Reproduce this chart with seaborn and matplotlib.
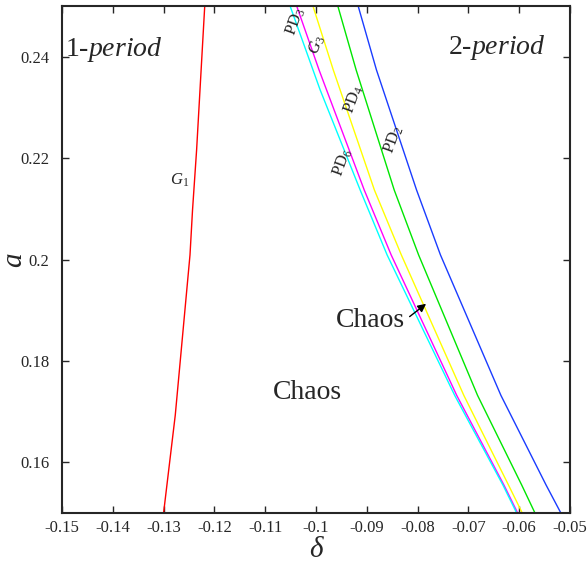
import numpy as np
import pandas as pd
import matplotlib
matplotlib.use("Agg")
import matplotlib.pyplot as plt
import seaborn as sns

# ---- data ----
g1_delta = [-0.1219, -0.1235, -0.1243, -0.1248, -0.1277, -0.1300]
g1_a     = [0.2500, 0.2216, 0.2098, 0.2009, 0.1693, 0.1500]

pd2_delta = [-0.0917, -0.0881, -0.0802, -0.0755, -0.0636, -0.0547, -0.0518]
pd2_a     = [0.2500, 0.2374, 0.2137, 0.2009, 0.1732, 0.1555, 0.1500]

pd4_delta = [-0.0957, -0.0921, -0.0846, -0.0798, -0.0682, -0.0595, -0.0569]
pd4_a     = [0.2500, 0.2374, 0.2137, 0.2009, 0.1732, 0.1555, 0.1500]

g3_delta = [-0.1006, -0.0966, -0.0885, -0.0832, -0.0709, -0.0621, -0.0594]
g3_a     = [0.2500, 0.2374, 0.2137, 0.2009, 0.1732, 0.1555, 0.1500]

pd3_delta = [-0.1038, -0.0994, -0.0905, -0.0852, -0.0723, -0.0630, -0.0603]
pd3_a     = [0.2500, 0.2374, 0.2137, 0.2009, 0.1732, 0.1555, 0.1500]

pd6_delta = [-0.1051, -0.0992, -0.0913, -0.0860, -0.0727, -0.0632, -0.0605]
pd6_a     = [0.2500, 0.2335, 0.2137, 0.2009, 0.1732, 0.1555, 0.1500]

curve_names = ["G1", "PD2", "PD4", "G3", "PD3", "PD6"]
curve_colors = ["#ff0000", "#1a3cff", "#00e600", "#ffff00", "#ff00ff", "#00ffff"]

x_ticks = [-0.15, -0.14, -0.13, -0.12, -0.11, -0.1, -0.09, -0.08, -0.07, -0.06, -0.05]
x_tick_labels = ["-0.15", "-0.14", "-0.13", "-0.12", "-0.11", "-0.1", "-0.09",
                 "-0.08", "-0.07", "-0.06", "-0.05"]
y_ticks = [0.16, 0.18, 0.2, 0.22, 0.24]
y_tick_labels = ["0.16", "0.18", "0.2", "0.22", "0.24"]

# ---- build long table ----
series = {
    "G1": (g1_delta, g1_a), "PD2": (pd2_delta, pd2_a), "PD4": (pd4_delta, pd4_a),
    "G3": (g3_delta, g3_a), "PD3": (pd3_delta, pd3_a), "PD6": (pd6_delta, pd6_a),
}
frames = []
for name, (d, a) in series.items():
    frames.append(pd.DataFrame({"delta": d, "a": a, "curve": name}))
df = pd.concat(frames, ignore_index=True)

sns.set_style("ticks")
plt.rcParams["font.family"] = ["Liberation Serif", "DejaVu Serif"]
plt.rcParams["mathtext.fontset"] = "custom"
plt.rcParams["mathtext.rm"] = "Liberation Serif"
plt.rcParams["mathtext.it"] = "Liberation Serif:italic"

fig = plt.figure(figsize=(5.88, 5.62), dpi=100)
ax = fig.add_axes([0.1054, 0.0872, 0.864, 0.9021])

sns.lineplot(data=df, x="delta", y="a", hue="curve", units="curve",
             hue_order=curve_names, palette=dict(zip(curve_names, curve_colors)),
             sort=False, estimator=None, linewidth=1.0, legend=False, ax=ax)

ax.set_xlim(-0.15, -0.05)
ax.set_ylim(0.15, 0.25)
ax.set_xticks(x_ticks)
ax.set_xticklabels(x_tick_labels, fontsize=12)
ax.set_yticks(y_ticks)
ax.set_yticklabels(y_tick_labels, fontsize=12)
ax.tick_params(direction="in", top=True, right=True, length=5, width=1)
ax.tick_params(axis="y", pad=9)
ax.tick_params(axis="x", pad=5)
for s in ax.spines.values():
    s.set_linewidth(1.5)

ax.set_xlabel("δ", fontsize=21, fontstyle="italic")
ax.set_ylabel("a", fontsize=21, fontstyle="italic")
ax.xaxis.set_label_coords(0.5, -0.048)
ax.yaxis.set_label_coords(-0.068, 0.5)

# region labels
ax.text(-0.1397, 0.2414, r"1-$\mathit{period}$", fontsize=20, ha="center", va="center")
ax.text(-0.0644, 0.2418, r"2-$\mathit{period}$", fontsize=20, ha="center", va="center")
ax.text(-0.1016, 0.1738, "Chaos", fontsize=20, ha="center", va="center")
ax.text(-0.0893, 0.1880, "Chaos", fontsize=20, ha="center", va="center")
ax.annotate("", xy=(-0.0779, 0.1916), xytext=(-0.0820, 0.1884),
            arrowprops=dict(arrowstyle="-|>", color="black", lw=1, mutation_scale=12))

# curve labels
ax.text(-0.1269, 0.2157, r"$G_1$", fontsize=12, ha="center", va="center")
rot = 70
ax.text(-0.1040, 0.2469, r"$\mathrm{PD}_3$", fontsize=12, ha="center", va="center", rotation=rot)
ax.text(-0.0998, 0.2424, r"$G_3$", fontsize=12, ha="center", va="center", rotation=rot)
ax.text(-0.0925, 0.2315, r"$\mathrm{PD}_4$", fontsize=12, ha="center", va="center", rotation=rot)
ax.text(-0.0848, 0.2236, r"$\mathrm{PD}_2$", fontsize=12, ha="center", va="center", rotation=rot)
ax.text(-0.0947, 0.2192, r"$\mathrm{PD}_6$", fontsize=12, ha="center", va="center", rotation=rot)

fig.savefig("out.png", dpi=100)
